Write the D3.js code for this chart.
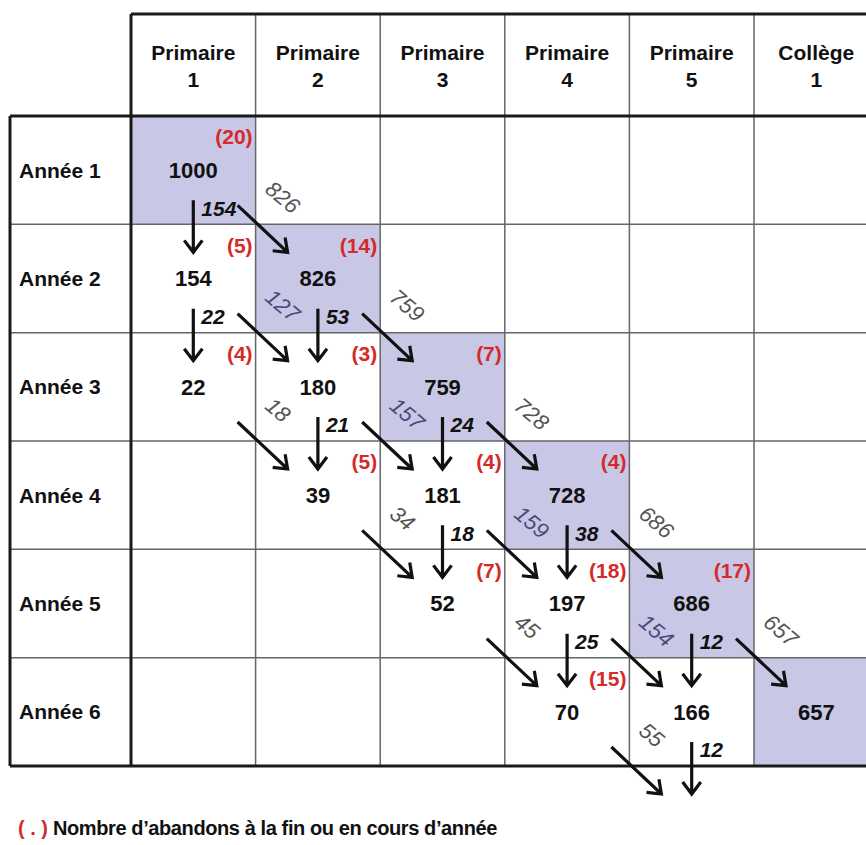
<!DOCTYPE html>
<html><head><meta charset="utf-8">
<script src="https://cdn.jsdelivr.net/npm/d3@7"></script>
<style>body{margin:0;background:#fff}svg{display:block}</style>
</head><body><svg id="c" width="866" height="845"></svg>
<script>
// ---- data ----
const grades = ["Primaire 1","Primaire 2","Primaire 3","Primaire 4","Primaire 5","Collège 1"];
const years  = ["Année 1","Année 2","Année 3","Année 4","Année 5","Année 6"];
// one entry per filled cell
const cellYear  = [1,2,2,3,3,3,4,4,4,5,5,5,6,6,6];
const cellGrade = [1,1,2,1,2,3,2,3,4,3,4,5,4,5,6];
const enrolment = [1000,154,826,22,180,759,39,181,728,52,197,686,70,166,657];
const dropouts  = [20,5,14,4,3,7,5,4,4,7,18,17,15,null,null];
const repeaters = [154,22,53,null,21,24,null,18,38,null,25,12,null,12,null];
const promoted  = [826,127,759,18,157,728,34,159,686,45,154,657,55,null,null];
const legendMark = "( . )";
const legendText = "Nombre d’abandons à la fin ou en cours d’année";

// ---- layout ----
const svg = d3.select("#c");
const FONT = "'Liberation Sans', Arial, sans-serif";
const left0 = 131, step = (754 - 131) / 5;
const x = d3.scaleBand().domain(grades).range([left0, left0 + step * grades.length]);
const y = d3.scaleBand().domain(years).range([116, 766]);
const headTop = 14, labLeft = 10, W = 866;
const SHADE = "#c8c8e6", RED = "#d42a2a";

const cells = enrolment.map((v, i) => ({
  g: grades[cellGrade[i] - 1], yr: years[cellYear[i] - 1],
  gi: cellGrade[i] - 1, yi: cellYear[i] - 1,
  v, drop: dropouts[i], rep: repeaters[i], pro: promoted[i]
}));

// shaded diagonal cells
svg.append("g").selectAll("rect").data(cells.filter(d => d.gi === d.yi)).join("rect")
  .attr("x", d => x(d.g)).attr("y", d => y(d.yr))
  .attr("width", x.bandwidth()).attr("height", y.bandwidth()).attr("fill", SHADE);

// grid
const grid = svg.append("g");
grades.slice(1).forEach(g => grid.append("line").attr("x1", x(g)).attr("x2", x(g))
  .attr("y1", headTop).attr("y2", y.range()[1]).attr("stroke", "#666").attr("stroke-width", 1.5));
years.slice(1).forEach(r => grid.append("line").attr("x1", labLeft).attr("x2", W)
  .attr("y1", y(r)).attr("y2", y(r)).attr("stroke", "#666").attr("stroke-width", 1.5));
const thick = (x1, y1, x2, y2) => grid.append("line").attr("x1", x1).attr("y1", y1)
  .attr("x2", x2).attr("y2", y2).attr("stroke", "#1a1a1a").attr("stroke-width", 3);
thick(left0, headTop, W, headTop);
thick(labLeft, y.range()[0], W, y.range()[0]);
thick(labLeft, y.range()[1], W, y.range()[1]);
thick(left0, headTop, left0, y.range()[1]);
thick(labLeft, y.range()[0], labLeft, y.range()[1]);

// headers
const hdr = svg.append("g").attr("font-family", FONT).attr("font-weight", "bold")
  .attr("font-size", 21).attr("text-anchor", "middle").attr("fill", "#111");
grades.forEach(g => {
  const parts = g.split(" ");
  const t = hdr.append("text").attr("x", x(g) + x.bandwidth() / 2);
  t.append("tspan").attr("x", x(g) + x.bandwidth() / 2).attr("y", 60).text(parts[0]);
  t.append("tspan").attr("x", x(g) + x.bandwidth() / 2).attr("y", 87).text(parts[1]);
});
svg.append("g").attr("font-family", FONT).attr("font-weight", "bold").attr("font-size", 21)
  .attr("fill", "#111").selectAll("text").data(years).join("text")
  .attr("x", 19).attr("y", d => y(d) + y.bandwidth() / 2).attr("dy", "0.35em")
  .text(d => d);

// main numbers
const cx = d => x(d.g) + x.bandwidth() / 2;
const cy = d => y(d.yr) + y.bandwidth() / 2;
const bottom = d => y(d.yr) + y.bandwidth();
const right = d => x(d.g) + x.bandwidth();
svg.append("g").attr("font-family", FONT).attr("font-weight", "bold").attr("font-size", 22)
  .attr("text-anchor", "middle").attr("fill", "#111").selectAll("text").data(cells).join("text")
  .attr("x", cx).attr("y", cy).attr("dy", "0.35em").text(d => d.v);

// dropouts (red)
svg.append("g").attr("font-family", FONT).attr("font-weight", "bold").attr("font-size", 21)
  .attr("text-anchor", "end").attr("fill", RED).selectAll("text")
  .data(cells.filter(d => d.drop != null)).join("text")
  .attr("x", d => right(d) - 3).attr("y", d => y(d.yr) + 21).attr("dy", "0.35em")
  .text(d => "(" + d.drop + ")");

// arrows
function arrow(x1, y1, x2, y2) {
  const a = Math.atan2(y2 - y1, x2 - x1), L = 15, s = 0.65;
  const p = d3.path();
  p.moveTo(x1, y1); p.lineTo(x2, y2);
  p.moveTo(x2 - L * Math.cos(a - s), y2 - L * Math.sin(a - s));
  p.lineTo(x2, y2);
  p.lineTo(x2 - L * Math.cos(a + s), y2 - L * Math.sin(a + s));
  return p.toString();
}
const ar = svg.append("g").attr("fill", "none").attr("stroke", "#111").attr("stroke-width", 3.2)
  .attr("stroke-linejoin", "miter");
ar.selectAll("path.down").data(cells.filter(d => d.rep != null)).join("path").attr("class", "down")
  .attr("d", d => arrow(cx(d), bottom(d) - 24, cx(d), bottom(d) + 28));
ar.selectAll("path.diag").data(cells.filter(d => d.pro != null)).join("path").attr("class", "diag")
  .attr("d", d => arrow(right(d) - 18, bottom(d) - 19, right(d) + 32, bottom(d) + 28));

// repeaters labels (italic)
svg.append("g").attr("font-family", FONT).attr("font-weight", "bold").attr("font-style", "italic")
  .attr("font-size", 21).attr("fill", "#111").selectAll("text")
  .data(cells.filter(d => d.rep != null)).join("text")
  .attr("x", d => cx(d) + 8).attr("y", d => bottom(d) - 16).attr("dy", "0.35em")
  .text(d => d.rep);

// promoted labels (rotated)
svg.append("g").attr("font-family", FONT).attr("font-style", "italic").attr("font-size", 22)
  .selectAll("text").data(cells.filter(d => d.pro != null)).join("text")
  .attr("fill", d => (d.gi + 1 === d.yi) ? "#4a4a7c" : "#555")
  .attr("transform", d => `translate(${right(d) + 13},${bottom(d) - 39}) rotate(40)`)
  .attr("dy", "0.35em").text(d => d.pro);

// legend
const lg = svg.append("text").attr("x", 18).attr("y", 828).attr("dy", "0.35em")
  .attr("font-family", FONT).attr("font-weight", "bold").attr("font-size", 20);
lg.append("tspan").attr("fill", RED).text(legendMark);
lg.append("tspan").attr("fill", "#111").attr("dx", 5).attr("letter-spacing", -0.4).text(legendText);
</script></body></html>
